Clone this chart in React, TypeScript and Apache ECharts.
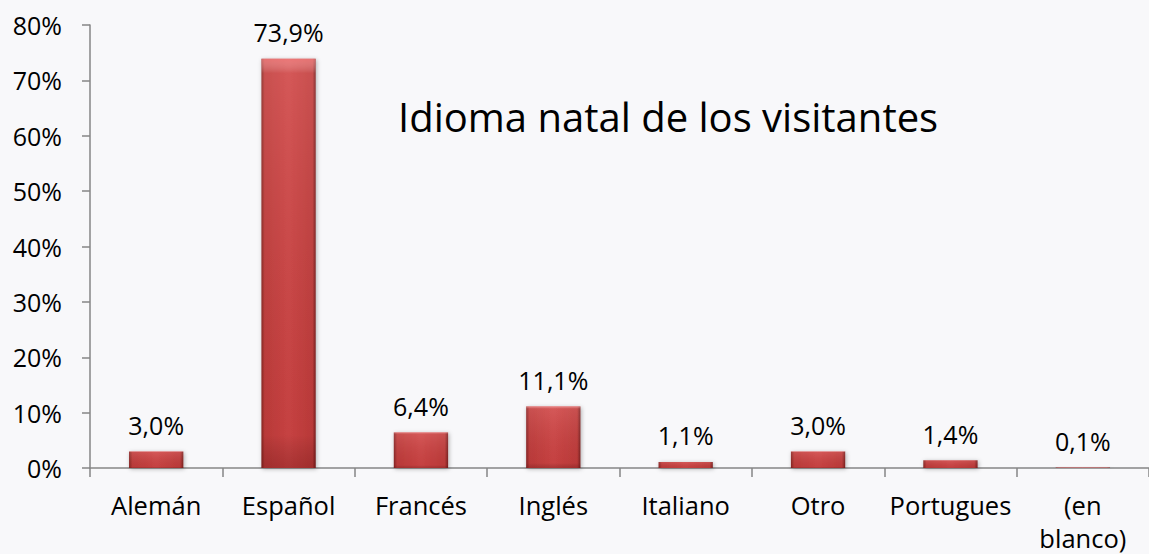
import React, { useEffect, useRef } from "react";
import * as echarts from "echarts";

const categories = ["Alemán", "Español", "Francés", "Inglés", "Italiano", "Otro", "Portugues", "(en\nblanco)"];
const values = [3.0, 73.9, 6.4, 11.1, 1.1, 3.0, 1.4, 0.1];
const titleText = "Idioma natal de los visitantes";
const yMax = 80;
const yInterval = 10;

const FONT = "'Open Sans', sans-serif";

export default function App() {
  const ref = useRef<HTMLDivElement>(null);
  useEffect(() => {
    if (!ref.current) return;
    const chart = echarts.init(ref.current, undefined, { renderer: "svg" });
    const barFill = new echarts.graphic.LinearGradient(0, 0, 1, 0, [
      { offset: 0, color: "#8a2624" },
      { offset: 0.06, color: "#c23c3b" },
      { offset: 0.5, color: "#d04545" },
      { offset: 0.94, color: "#c23c3b" },
      { offset: 1, color: "#7e2221" },
    ]);
    const overlayFill = new echarts.graphic.LinearGradient(0, 0, 0, 1, [
      { offset: 0, color: "rgba(255,150,150,0.6)" },
      { offset: 0.035, color: "rgba(255,255,255,0.1)" },
      { offset: 0.92, color: "rgba(0,0,0,0.05)" },
      { offset: 1, color: "rgba(60,0,0,0.25)" },
    ]);
    chart.setOption({
      animation: false,
      backgroundColor: "#f8f8fa",
      title: {
        text: titleText,
        left: 393,
        top: 91,
        textStyle: { fontFamily: FONT, fontSize: 40, fontWeight: "normal", color: "#000" },
      },
      grid: { left: 90, right: 0, top: 25, bottom: 86, containLabel: false, outerBoundsMode: "none" },
      xAxis: {
        type: "category",
        data: categories,
        axisLine: { lineStyle: { color: "#868686", width: 1.5 } },
        axisTick: { show: true, length: 9, alignWithLabel: false, lineStyle: { color: "#868686", width: 1.5 } },
        axisLabel: {
          interval: 0,
          margin: 20,
          fontFamily: FONT,
          fontSize: 25.5,
          lineHeight: 33,
          color: "#000",
        },
      },
      yAxis: {
        type: "value",
        min: 0,
        max: yMax,
        interval: yInterval,
        splitLine: { show: false },
        axisLine: { show: true, lineStyle: { color: "#868686", width: 1.5 } },
        axisTick: { show: true, length: 8, lineStyle: { color: "#868686", width: 1.5 } },
        axisLabel: {
          margin: 28,
          fontFamily: FONT,
          fontSize: 25,
          color: "#000",
          formatter: "{value}%",
        },
      },
      series: [
        {
          type: "bar",
          data: values,
          barWidth: "41%",
          itemStyle: {
            color: barFill,
            shadowBlur: 4,
            shadowColor: "rgba(0,0,0,0.3)",
            shadowOffsetX: 1,
            shadowOffsetY: 1,
          },
          label: {
            show: true,
            position: "top",
            distance: 14,
            fontFamily: FONT,
            fontSize: 25,
            color: "#000",
            formatter: (p: any) => p.value.toFixed(1).replace(".", ",") + "%",
          },
        },
        {
          type: "bar",
          data: values,
          barWidth: "41%",
          barGap: "-100%",
          silent: true,
          itemStyle: { color: overlayFill },
          label: { show: false },
        },
      ],
    });
    return () => chart.dispose();
  }, []);
  return <div ref={ref} style={{ position: "fixed", left: 0, top: 0, width: 1149, height: 554 }} />;
}
